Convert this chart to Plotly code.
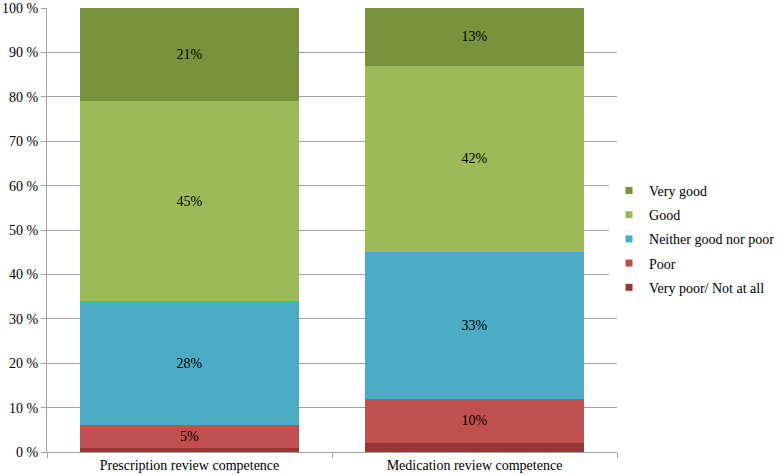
import plotly.graph_objects as go

# --- DATA ---
CATEGORIES = ['Prescription review competence', 'Medication review competence']
VERY_POOR = [1, 2]
POOR = [5, 10]
NEITHER = [28, 33]
GOOD = [45, 42]
VERY_GOOD = [21, 13]
Y_TICKS = [0, 10, 20, 30, 40, 50, 60, 70, 80, 90, 100]
Y_TICK_LABELS = [f'{v} %' for v in Y_TICKS]

SERIES = [
    ('Very poor/ Not at all', VERY_POOR, '#953735', False),
    ('Poor', POOR, '#C0504D', True),
    ('Neither good nor poor', NEITHER, '#4BACC6', True),
    ('Good', GOOD, '#9BBB59', True),
    ('Very good', VERY_GOOD, '#77933C', True),
]

FONT = 'Times New Roman, Liberation Serif, serif'

fig = go.Figure()
for i, (name, vals, color, show_label) in enumerate(SERIES):
    fig.add_trace(go.Bar(
        x=CATEGORIES, y=vals, name=name,
        marker=dict(color=color, line=dict(width=0)),
        text=[f'{v}%' for v in vals] if show_label else None,
        textposition='inside', insidetextanchor='middle',
        textfont=dict(family=FONT, size=14, color='black'),
        showlegend=False,
    ))
    # small square legend symbol
    fig.add_trace(go.Scatter(
        x=[None], y=[None], mode='markers', name=name,
        marker=dict(symbol='square', size=7, color=color),
        legendrank=1000 - i, legendgroup=name,
    ))

fig.update_layout(
    barmode='stack',
    bargap=0.23,
    width=780, height=475,
    margin=dict(l=47, r=163, t=8, b=23, autoexpand=False),
    plot_bgcolor='white', paper_bgcolor='white',
    font=dict(family=FONT, size=14, color='black'),
    uniformtext=dict(mode='show', minsize=14),
    legend=dict(
        x=0.986, y=0.48, xanchor='left', yanchor='middle',
        traceorder='grouped', tracegroupgap=3,
        font=dict(family=FONT, size=14),
        itemwidth=30,
    ),
    showlegend=True,
)
fig.update_xaxes(
    showline=True, linecolor='#A0A0A0', linewidth=1,
    ticks='outside', tickson='boundaries', tickcolor='#A0A0A0', ticklen=5,
    tickfont=dict(family=FONT, size=14),
    ticklabelstandoff=0,
    automargin=False,
)
fig.update_yaxes(
    range=[0, 100], tickvals=Y_TICKS, ticktext=Y_TICK_LABELS,
    showgrid=True, gridcolor='#A0A0A0', gridwidth=1,
    showline=True, linecolor='#A0A0A0', linewidth=1,
    ticks='outside', tickcolor='#A0A0A0', ticklen=5,
    tickfont=dict(family=FONT, size=14),
    zeroline=False, automargin=False,
)

# drop the default 8px page margin so the figure fills the window
fig.write_html('out.html', config={'displayModeBar': False},
               post_script="document.body.style.margin='0';")
